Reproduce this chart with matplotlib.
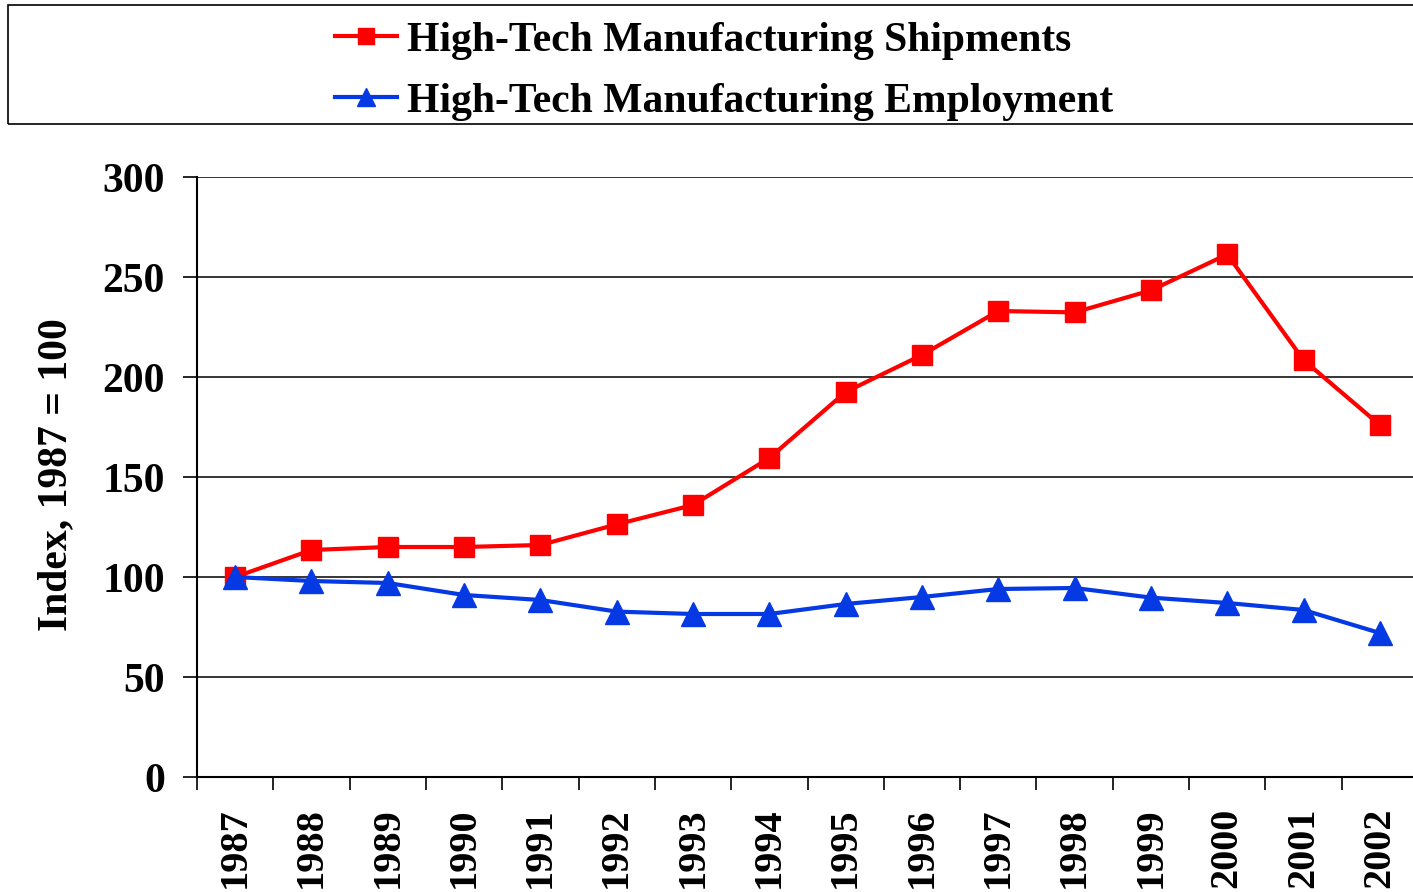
"""
High-tech manufacturing index chart
"""
import numpy as np
import matplotlib
matplotlib.use("Agg")
import matplotlib.pyplot as plt
from matplotlib.patches import Rectangle

# data (index, 1987 = 100)
YEARS = ['1987', '1988', '1989', '1990', '1991', '1992', '1993', '1994',
         '1995', '1996', '1997', '1998', '1999', '2000', '2001', '2002']
SHIPMENTS = [100, 113.5, 115, 115, 116, 126.3, 136, 159.5,
             192.5, 211, 233, 232.3, 243.3, 261.3, 208.5, 176]
EMPLOYMENT = [100, 98, 97, 91, 88.5, 82.7, 81.5, 81.5,
              86.5, 90, 94, 94.5, 89.7, 87, 83.5, 72]
Y_TICKS = [0, 50, 100, 150, 200, 250, 300]

RED = '#ff0000'
BLUE = '#0539e3'

plt.rcParams['font.family'] = ['Liberation Serif', 'DejaVu Serif']
plt.rcParams['font.weight'] = 'bold'

W, H = 1413, 892
fig = plt.figure(figsize=(W / 100, H / 100), dpi=100)

# axes: left spine at x=197, bottom at y=777, top at y=177, runs off the right edge
ax = fig.add_axes([197 / W, 1 - 777 / H, (1418 - 197) / W, 600 / H])

x = np.arange(len(YEARS))
ax.plot(x, SHIPMENTS, color=RED, lw=3, marker='s', ms=15, mec=RED,
        label='High-Tech Manufacturing Shipments', zorder=3)
ax.plot(x, EMPLOYMENT, color=BLUE, lw=3, marker='^', ms=17, mec=BLUE,
        label='High-Tech Manufacturing Employment', zorder=3)

ax.set_xlim(-0.5, len(YEARS) - 0.5)
ax.set_ylim(0, 300)
ax.set_yticks(Y_TICKS)
ax.set_yticklabels([str(v) for v in Y_TICKS], fontsize=30, fontweight='bold')
ax.tick_params(axis='y', length=10, width=1.2, pad=13, direction='out')

# year labels at category centres, tick marks on the boundaries
ax.set_xticks(x)
ax.set_xticklabels(YEARS, rotation=90, fontsize=29, fontweight='bold')
ax.tick_params(axis='x', which='major', length=0, pad=22)
ax.set_xticks(np.arange(-0.5, len(YEARS)), minor=True)
ax.tick_params(axis='x', which='minor', length=9, width=1.2, direction='out')

ax.grid(axis='y', color='black', lw=1.1)
ax.set_axisbelow(True)
for s in ['top', 'right']:
    ax.spines[s].set_visible(False)
for s in ['left', 'bottom']:
    ax.spines[s].set_linewidth(1.5)

ax.set_ylabel('Index, 1987 = 100', fontsize=30, fontweight='bold')
ax.yaxis.set_label_coords((75 - 197) / 1221, (777 - 475) / 600)

# legend box across the top
fig.patches.append(Rectangle((8 / W, 1 - 124 / H), (1430 - 8) / W, 119 / H,
                             transform=fig.transFigure, fill=False,
                             edgecolor='black', lw=1.2))
fig.legend(loc='upper left', bbox_to_anchor=(297 / W, 1 + 16 / H),
           frameon=False, prop={'weight': 'bold', 'size': 30},
           handlelength=1.5, handletextpad=0.25, labelspacing=0.55,
           markerscale=0.8)

fig.savefig('out.png', dpi=100)
